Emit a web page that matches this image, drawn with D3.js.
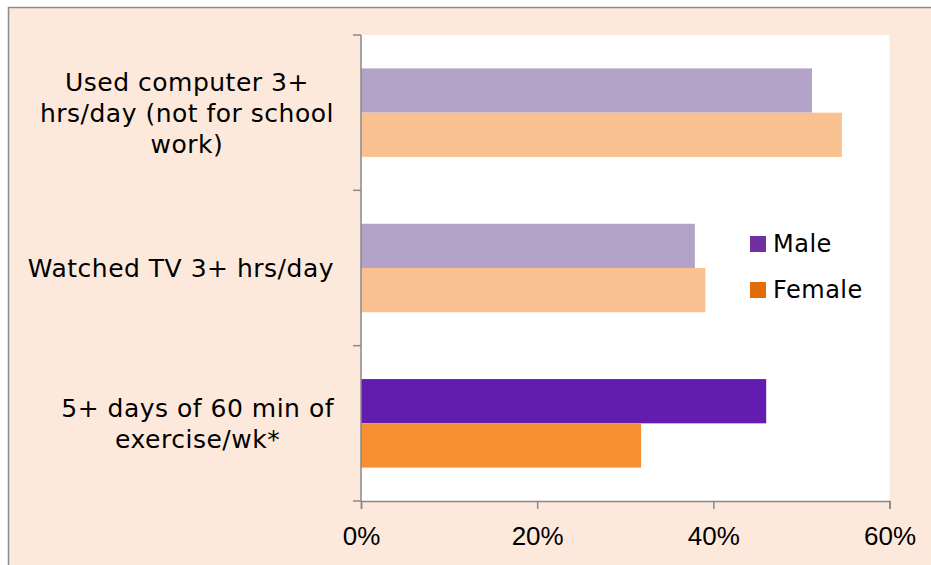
<!DOCTYPE html>
<html><head><meta charset="utf-8">
<script src="https://cdn.jsdelivr.net/npm/d3@7"></script>
<style>body{margin:0;background:#fff;overflow:hidden}</style>
</head><body><svg id="c" width="931" height="565"></svg>
<script>
const categories = [
  ["Used computer 3+", "hrs/day (not for school", "work)"],
  ["Watched TV 3+ hrs/day"],
  ["5+ days of 60 min of", "exercise/wk*"]
];
const seriesNames = ["Male", "Female"];
const maleValues = [51.2, 37.9, 46.0];
const femaleValues = [54.6, 39.1, 31.8];
const xTicks = [0, 20, 40, 60];
const lightColors = ["#b3a3c8", "#fac291"];
const darkColors = ["#631cb0", "#f78f33"];
const legendColors = ["#7030a0", "#e36c09"];

const svg = d3.select("#c");
svg.append("rect").attr("x", 8.5).attr("y", 7.5).attr("width", 940).attr("height", 580)
  .attr("fill", "#fde9db").attr("stroke", "#8c8c8c").attr("stroke-width", 1.5);

const L = 361, R = 889.5, T = 35, B = 501;
svg.append("rect").attr("x", L).attr("y", T).attr("width", R - L).attr("height", B - T).attr("fill", "#fff");

const x = d3.scaleLinear().domain([0, 60]).range([L, R]);
const y = d3.scaleBand().domain(d3.range(categories.length)).range([T, B]).padding(0);
const sub = d3.scaleBand().domain([0, 1]).range([0, y.bandwidth()]).paddingInner(0).paddingOuter(0.755);

const data = categories.map((c, i) => ({i, vals: [maleValues[i], femaleValues[i]]}));
data.forEach(d => {
  d.vals.forEach((v, s) => {
    const col = d.i === 2 ? darkColors[s] : lightColors[s];
    svg.append("rect").attr("x", x(0)).attr("y", y(d.i) + sub(s))
      .attr("width", x(v) - x(0)).attr("height", sub.bandwidth()).attr("fill", col);
  });
});

const axisCol = "#888";
// y axis
svg.append("line").attr("x1", L).attr("x2", L).attr("y1", T).attr("y2", B).attr("stroke", axisCol).attr("stroke-width", 1.5);
const yb = d3.range(categories.length + 1).map(k => T + k * y.step());
yb.forEach(v => svg.append("line").attr("x1", L - 8).attr("x2", L).attr("y1", v).attr("y2", v).attr("stroke", axisCol).attr("stroke-width", 1.5));
// x axis
const xa = svg.append("g").attr("transform", `translate(0,${B})`)
  .call(d3.axisBottom(x).tickValues(xTicks).tickSize(8).tickFormat(d => d + "%"));
xa.select(".domain").attr("stroke", axisCol).attr("stroke-width", 1.5);
xa.selectAll(".tick line").attr("stroke", axisCol).attr("stroke-width", 1.5);
xa.selectAll(".tick text").attr("font-family", "Liberation Sans, Arial, sans-serif").attr("font-size", 26)
  .attr("fill", "#000").attr("dy", null).attr("y", 44);

// category labels
const lh = 31;
categories.forEach((lines, i) => {
  const g = svg.append("g");
  const cy = y(i) + y.bandwidth() / 2;
  const n = lines.length;
  const texts = lines.map((t, k) => g.append("text").text(t)
    .attr("font-family", "DejaVu Sans, Verdana, sans-serif").attr("font-size", 25)
    .attr("letter-spacing", 0.5)
    .attr("fill", "#000").attr("text-anchor", "middle")
    .attr("y", cy + 9 + (k - (n - 1) / 2) * lh));
  const maxW = d3.max(texts, t => t.node().getComputedTextLength());
  texts.forEach(t => t.attr("x", 334 - maxW / 2));
});

// legend
seriesNames.forEach((s, k) => {
  const ly = 252 + k * 46;
  svg.append("rect").attr("x", 750).attr("y", ly - 16).attr("width", 16).attr("height", 16).attr("fill", legendColors[k]);
  svg.append("text").text(s).attr("x", 773).attr("y", ly)
    .attr("font-family", "DejaVu Sans, Verdana, sans-serif").attr("font-size", 24)
    .attr("letter-spacing", 0.5).attr("fill", "#000");
});
</script></body></html>
